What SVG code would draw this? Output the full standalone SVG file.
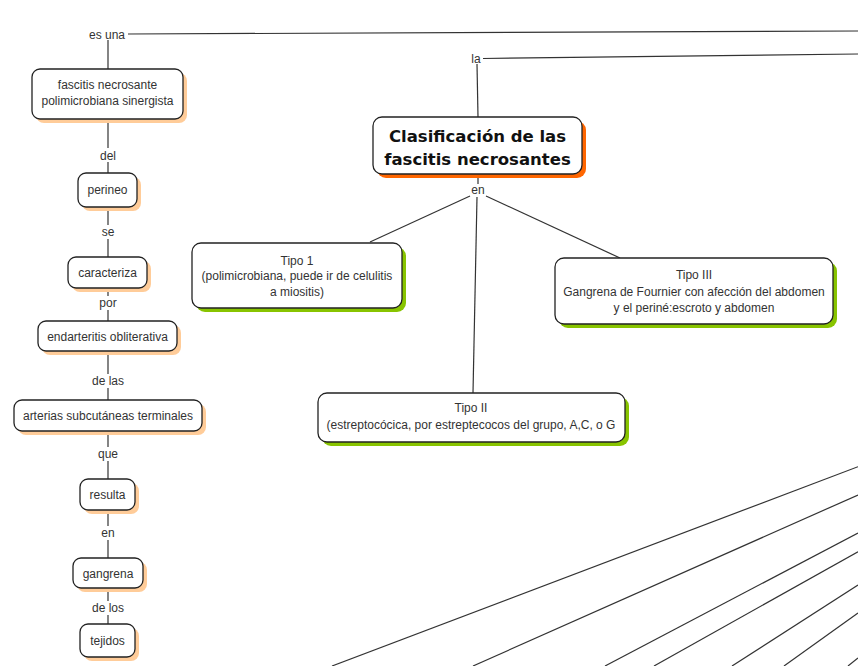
<svg xmlns="http://www.w3.org/2000/svg" width="858" height="666" viewBox="0 0 858 666">
<style>
  .box{fill:#fff;stroke:#222;stroke-width:1.3}
  .sho{fill:#FFCC99}
  .shg{fill:#88C400}
  .shr{fill:#FF6600}
  .t{font-family:"Liberation Sans",Arial,sans-serif;font-size:12px;fill:#333;text-anchor:middle}
  .lbl{font-family:"Liberation Sans",Arial,sans-serif;font-size:12px;fill:#333;text-anchor:middle}
  .big{font-family:"DejaVu Sans",Verdana,sans-serif;font-size:16.5px;font-weight:bold;fill:#111;text-anchor:middle}
  .c{stroke:#333;stroke-width:1.2;fill:none}
</style>
<rect width="858" height="666" fill="#fff"/>
<g id="connectors">
  <line class="c" x1="128" y1="34" x2="858" y2="31"/>
  <line class="c" x1="108" y1="40" x2="108" y2="69"/>
  <line class="c" x1="108" y1="123" x2="108" y2="148"/>
  <line class="c" x1="108" y1="162" x2="108" y2="173"/>
  <line class="c" x1="108" y1="211" x2="108" y2="225"/>
  <line class="c" x1="108" y1="239" x2="108" y2="257"/>
  <line class="c" x1="108" y1="292" x2="108" y2="296"/>
  <line class="c" x1="108" y1="310" x2="108" y2="321"/>
  <line class="c" x1="108" y1="355" x2="108" y2="374"/>
  <line class="c" x1="108" y1="388" x2="108" y2="400"/>
  <line class="c" x1="108" y1="435" x2="108" y2="447"/>
  <line class="c" x1="108" y1="461" x2="108" y2="479"/>
  <line class="c" x1="108" y1="514" x2="108" y2="526"/>
  <line class="c" x1="108" y1="540" x2="108" y2="558"/>
  <line class="c" x1="108" y1="592" x2="108" y2="601"/>
  <line class="c" x1="108" y1="615" x2="108" y2="624"/>
  <line class="c" x1="483" y1="58.5" x2="858" y2="54"/>
  <line class="c" x1="477" y1="64" x2="478" y2="117"/>
  <line class="c" x1="478" y1="178" x2="478" y2="184"/>
  <line class="c" x1="470" y1="196" x2="370" y2="242"/>
  <line class="c" x1="486" y1="196" x2="620" y2="258"/>
  <line class="c" x1="477" y1="197" x2="473" y2="393"/>
  <line class="c" x1="858" y1="466.7" x2="332" y2="666"/>
  <line class="c" x1="858" y1="495" x2="473" y2="666"/>
  <line class="c" x1="858" y1="533" x2="605" y2="666"/>
  <line class="c" x1="858" y1="551.7" x2="654" y2="666"/>
  <line class="c" x1="858" y1="585" x2="732" y2="666"/>
  <line class="c" x1="858" y1="613" x2="784" y2="666"/>
  <line class="c" x1="858" y1="658" x2="848" y2="666"/>
</g>
<g id="labels">
  <text class="lbl" x="107" y="38.5">es una</text>
  <text class="lbl" x="108" y="159.5">del</text>
  <text class="lbl" x="108" y="236">se</text>
  <text class="lbl" x="108" y="307">por</text>
  <text class="lbl" x="108" y="385">de las</text>
  <text class="lbl" x="108" y="458">que</text>
  <text class="lbl" x="108" y="537">en</text>
  <text class="lbl" x="108" y="612">de los</text>
  <text class="lbl" x="476" y="63">la</text>
  <text class="lbl" x="478" y="194">en</text>
</g>
<g id="n-fascitis">
  <rect class="sho" x="36" y="73" width="151" height="50" rx="8"/>
  <rect class="box" x="32" y="69" width="151" height="50" rx="8"/>
  <text class="t" x="107.5" y="89">fascitis necrosante</text>
  <text class="t" x="107.5" y="105">polimicrobiana sinergista</text>
</g>
<g id="n-perineo">
  <rect class="sho" x="82" y="177" width="59" height="34" rx="8"/>
  <rect class="box" x="78" y="173" width="59" height="34" rx="8"/>
  <text class="t" x="107.5" y="194">perineo</text>
</g>
<g id="n-caracteriza">
  <rect class="sho" x="72" y="261" width="79" height="31" rx="8"/>
  <rect class="box" x="68" y="257" width="79" height="31" rx="8"/>
  <text class="t" x="107.5" y="276.5">caracteriza</text>
</g>
<g id="n-endarteritis">
  <rect class="sho" x="42" y="325" width="139" height="30" rx="8"/>
  <rect class="box" x="38" y="321" width="139" height="30" rx="8"/>
  <text class="t" x="107.5" y="340.5">endarteritis obliterativa</text>
</g>
<g id="n-arterias">
  <rect class="sho" x="18" y="404" width="188" height="31" rx="8"/>
  <rect class="box" x="14" y="400" width="188" height="31" rx="8"/>
  <text class="t" x="108" y="420">arterias subcutáneas terminales</text>
</g>
<g id="n-resulta">
  <rect class="sho" x="84" y="483" width="55" height="31" rx="8"/>
  <rect class="box" x="80" y="479" width="55" height="31" rx="8"/>
  <text class="t" x="107.5" y="499">resulta</text>
</g>
<g id="n-gangrena">
  <rect class="sho" x="77" y="562" width="70" height="30" rx="8"/>
  <rect class="box" x="73" y="558" width="70" height="30" rx="8"/>
  <text class="t" x="108" y="577.5">gangrena</text>
</g>
<g id="n-tejidos">
  <rect class="sho" x="84" y="628" width="55" height="33" rx="8"/>
  <rect class="box" x="80" y="624" width="55" height="33" rx="8"/>
  <text class="t" x="107.5" y="644.5">tejidos</text>
</g>
<g id="n-clasificacion">
  <rect class="shr" x="377" y="121" width="209" height="57" rx="9"/>
  <rect class="box" x="373" y="117" width="209" height="57" rx="9"/>
  <text class="big" x="477.5" y="142">Clasificación de las</text>
  <text class="big" x="477.5" y="165">fascitis necrosantes</text>
</g>
<g id="n-tipo1">
  <rect class="shg" x="196" y="247" width="210" height="65" rx="9"/>
  <rect class="box" x="192" y="243" width="210" height="65" rx="9"/>
  <text class="t" x="297" y="265">Tipo 1</text>
  <text class="t" x="297" y="280">(polimicrobiana, puede ir de celulitis</text>
  <text class="t" x="297" y="296">a miositis)</text>
</g>
<g id="n-tipo3">
  <rect class="shg" x="559" y="262" width="278" height="66" rx="9"/>
  <rect class="box" x="555" y="258" width="278" height="66" rx="9"/>
  <text class="t" x="694" y="279">Tipo III</text>
  <text class="t" x="694" y="296">Gangrena de Fournier con afección del abdomen</text>
  <text class="t" x="694" y="312">y el periné:escroto y abdomen</text>
</g>
<g id="n-tipo2">
  <rect class="shg" x="322" y="397" width="307" height="49" rx="9"/>
  <rect class="box" x="318" y="393" width="307" height="49" rx="9"/>
  <text class="t" x="471" y="412">Tipo II</text>
  <text class="t" x="471" y="429">(estreptocócica, por estreptecocos del grupo, A,C, o G</text>
</g>
</svg>
